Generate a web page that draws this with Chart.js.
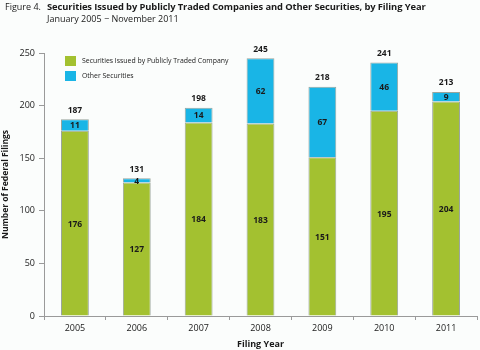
<!DOCTYPE html>
<html><head><meta charset="utf-8">
<script src="https://cdn.jsdelivr.net/npm/chart.js@4"></script>
<style>
html,body{margin:0;padding:0;background:#fbfdfc;}
#wrap{position:relative;width:480px;height:350px;overflow:hidden;font-family:"Open Sans",sans-serif;color:#1a1a1a;}
#c{position:absolute;left:0;top:0;}
.t{position:absolute;white-space:nowrap;}
</style></head>
<body>
<div id="wrap">
<canvas id="c" width="480" height="350"></canvas>
<div class="t" style="left:5px;top:0px;font-size:9px;">Figure 4.</div>
<div class="t" style="left:47px;top:0px;font-size:9.4px;font-weight:bold;letter-spacing:-0.1px;">Securities Issued by Publicly Traded Companies and Other Securities, by Filing Year</div>
<div class="t" style="left:47px;top:12px;font-size:9px;">January 2005 &minus; November 2011</div>
</div>
<script>
const categories = ["2005","2006","2007","2008","2009","2010","2011"];
const publicCo = [176,127,184,183,151,195,204];
const otherSec = [11,4,14,62,67,46,9];
const totals = [187,131,198,245,218,241,213];
const seriesNames = ["Securities Issued by Publicly Traded Company","Other Securities"];
const yTicks = [0,50,100,150,200,250];

const FONT = '"Open Sans", sans-serif';

const labelPlugin = {
  id:'labels',
  afterDatasetsDraw(chart){
    const ctx = chart.ctx;
    ctx.save();
    ctx.fillStyle = '#1a1a1a';
    ctx.font = 'bold 8.5px ' + FONT;
    ctx.textAlign = 'center';
    ctx.textBaseline = 'middle';
    chart.data.datasets.forEach((ds,di)=>{
      const meta = chart.getDatasetMeta(di);
      meta.data.forEach((el,i)=>{
        const yc = (el.y + el.base)/2;
        ctx.fillText(String(ds.data[i]), el.x, yc+1);
      });
    });
    const top = chart.getDatasetMeta(1);
    top.data.forEach((el,i)=>{
      ctx.fillText(String(totals[i]), el.x, el.y - 9);
    });
    // legend
    const ca = chart.chartArea;
    chart.data.datasets.forEach((ds,di)=>{
      const x = ca.left + 21, y = ca.top + 3 + di*15;
      ctx.fillStyle = ds.backgroundColor;
      ctx.fillRect(x, y, 11, 10);
      ctx.fillStyle = '#1a1a1a';
      ctx.font = '6.9px ' + FONT;
      ctx.textAlign = 'left';
      ctx.fillText(ds.label, x + 17, y + 5);
    });
    ctx.restore();
  }
};

new Chart(document.getElementById('c'), {
  type:'bar',
  data:{
    labels:categories,
    datasets:[
      {label:seriesNames[0], data:publicCo, backgroundColor:'#a3c130', borderColor:'#9aa59c', borderWidth:1, categoryPercentage:0.9, barPercentage:0.5},
      {label:seriesNames[1], data:otherSec, backgroundColor:'#19b5e6', borderColor:'#9aa59c', borderWidth:1, categoryPercentage:0.9, barPercentage:0.5}
    ]
  },
  options:{
    responsive:false,
    animation:false,
    layout:{padding:{top:53,right:3,left:0,bottom:0}},
    plugins:{legend:{display:false},title:{display:false},tooltip:{enabled:false}},
    scales:{
      x:{
        stacked:true,
        grid:{offset:true,drawOnChartArea:false,drawTicks:true,tickLength:4,color:'#9a9a9a'},
        border:{color:'#9a9a9a'},
        ticks:{color:'#1a1a1a',font:{family:FONT,size:9},padding:3},
        title:{display:true,text:'Filing Year',color:'#1a1a1a',font:{family:FONT,size:9,weight:'bold'},padding:{top:3,bottom:0}},
        afterFit(s){s.height = 34;}
      },
      y:{
        stacked:true,
        min:0,max:250,
        afterBuildTicks(s){s.ticks = yTicks.map(v=>({value:v}));},
        grid:{drawOnChartArea:false,drawTicks:true,tickLength:5,color:'#9a9a9a'},
        border:{color:'#9a9a9a'},
        ticks:{color:'#1a1a1a',font:{family:FONT,size:9},padding:4},
        title:{display:true,text:'Number of Federal Filings',color:'#1a1a1a',font:{family:FONT,size:8.5,weight:'bold'},padding:{top:0,bottom:2}},
        afterFit(s){s.width = 44;}
      }
    }
  },
  plugins:[labelPlugin]
});
</script>
</body></html>
